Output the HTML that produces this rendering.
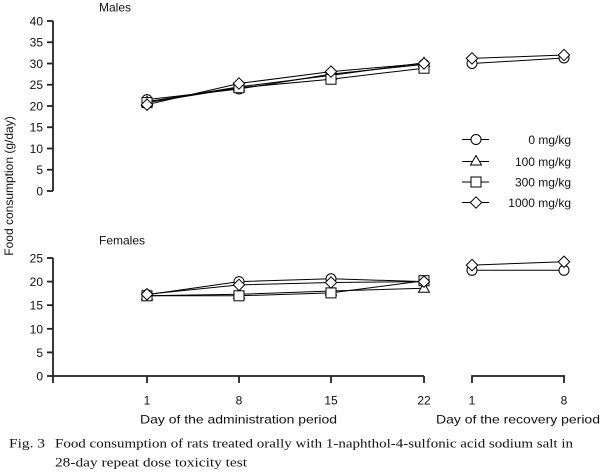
<!DOCTYPE html>
<html><head><meta charset="utf-8"><style>
html,body{margin:0;padding:0;background:#fff;}
svg{display:block;}
text{font-family:"Liberation Sans",Arial,sans-serif;font-size:12px;fill:#111;}
.serif{font-family:"Liberation Serif","Noto Serif CJK SC",serif;font-size:12.5px;}
</style></head><body>
<svg width="601" height="472" viewBox="0 0 601 472" xmlns="http://www.w3.org/2000/svg">
<defs>
<g id="c"><circle r="5" fill="#fff" stroke="#000" stroke-width="1"/></g>
<g id="t"><polygon points="0,-5.5 5.5,4 -5.5,4" fill="#fff" stroke="#000" stroke-width="1"/></g>
<g id="s"><rect x="-5" y="-5" width="10" height="10" fill="#fff" stroke="#000" stroke-width="1"/></g>
<g id="d"><polygon points="0,-5.7 5.7,0 0,5.7 -5.7,0" fill="#fff" stroke="#000" stroke-width="1"/></g>
</defs>

<!-- Males axis -->
<g stroke="#222" stroke-width="1.8" fill="none">
<line x1="53" y1="21" x2="53" y2="191"/>
<line x1="47" y1="21" x2="53" y2="21"/>
<line x1="47" y1="42.25" x2="53" y2="42.25"/>
<line x1="47" y1="63.5" x2="53" y2="63.5"/>
<line x1="47" y1="84.75" x2="53" y2="84.75"/>
<line x1="47" y1="106" x2="53" y2="106"/>
<line x1="47" y1="127.25" x2="53" y2="127.25"/>
<line x1="47" y1="148.5" x2="53" y2="148.5"/>
<line x1="47" y1="169.75" x2="53" y2="169.75"/>
<line x1="47" y1="191" x2="53" y2="191"/>
</g>
<g text-anchor="end">
<text x="43" y="25.5">40</text>
<text x="43" y="46.7">35</text>
<text x="43" y="68">30</text>
<text x="43" y="89.2">25</text>
<text x="43" y="110.5">20</text>
<text x="43" y="131.7">15</text>
<text x="43" y="153">10</text>
<text x="43" y="174.2">5</text>
<text x="43" y="195.5">0</text>
</g>
<text x="99" y="11.5">Males</text>

<!-- Males data -->
<g stroke="#000" stroke-width="1" fill="none">
<polyline points="147,99.6 239,89 331,74.1 424,64.4"/>
<polyline points="147,101.7 239,86.9 331,75.4 424,62.7"/>
<polyline points="147,102.6 239,87.7 331,79.2 424,68.2"/>
<polyline points="147,104.7 239,83.5 331,71.6 424,63.5"/>
<polyline points="472,63.5 564,58"/>
<polyline points="472,58.4 564,55"/>
</g>
<use href="#c" x="147" y="99.6"/><use href="#c" x="239" y="89"/><use href="#c" x="331" y="74.1"/><use href="#c" x="424" y="64.4"/>
<use href="#t" x="147" y="101.7"/><use href="#t" x="239" y="86.9"/><use href="#t" x="331" y="75.4"/><use href="#t" x="424" y="62.7"/>
<use href="#s" x="147" y="102.6"/><use href="#s" x="239" y="87.7"/><use href="#s" x="331" y="79.2"/><use href="#s" x="424" y="68.2"/>
<use href="#d" x="147" y="104.7"/><use href="#d" x="239" y="83.5"/><use href="#d" x="331" y="71.6"/><use href="#d" x="424" y="63.5"/>
<use href="#c" x="472" y="63.5"/><use href="#c" x="564" y="58"/>
<use href="#d" x="472" y="58.4"/><use href="#d" x="564" y="55"/>

<!-- Legend -->
<g stroke="#000" stroke-width="1">
<line x1="462" y1="139.5" x2="489" y2="139.5"/>
<line x1="462" y1="161.5" x2="489" y2="161.5"/>
<line x1="462" y1="182" x2="489" y2="182"/>
<line x1="462" y1="202.5" x2="489" y2="202.5"/>
</g>
<use href="#c" x="476" y="139.5"/>
<use href="#t" x="476" y="161"/>
<use href="#s" x="476" y="182"/>
<use href="#d" x="476" y="202.5"/>
<g text-anchor="end">
<text x="571" y="144">0 mg/kg</text>
<text x="571" y="166">100 mg/kg</text>
<text x="571" y="186.5">300 mg/kg</text>
<text x="571" y="207">1000 mg/kg</text>
</g>

<!-- Y axis label -->
<text x="0" y="0" text-anchor="middle" transform="translate(13,186) rotate(-90)">Food consumption (g/day)</text>

<!-- Females axis -->
<g stroke="#222" stroke-width="1.8" fill="none">
<line x1="53" y1="258" x2="53" y2="383"/>
<line x1="47" y1="258" x2="53" y2="258"/>
<line x1="47" y1="281.6" x2="53" y2="281.6"/>
<line x1="47" y1="305.2" x2="53" y2="305.2"/>
<line x1="47" y1="328.8" x2="53" y2="328.8"/>
<line x1="47" y1="352.4" x2="53" y2="352.4"/>
<line x1="47" y1="376" x2="424" y2="376"/>
<line x1="147" y1="376" x2="147" y2="383"/>
<line x1="239" y1="376" x2="239" y2="383"/>
<line x1="331" y1="376" x2="331" y2="383"/>
<line x1="424" y1="376" x2="424" y2="383"/>
<polyline points="472,383 472,376 564,376 564,383"/>
</g>
<g text-anchor="end">
<text x="43" y="262.5">25</text>
<text x="43" y="286">20</text>
<text x="43" y="309.7">15</text>
<text x="43" y="333.3">10</text>
<text x="43" y="356.9">5</text>
<text x="43" y="380.5">0</text>
</g>
<text x="99" y="244.5">Females</text>

<g stroke="#000" stroke-width="1" fill="none">
<polyline points="147,294.8 239,281.6 331,278.8 424,281.6"/>
<polyline points="147,295.8 239,294.3 331,291 424,288.2"/>
<polyline points="147,295.8 239,295.8 331,292.9 424,280.7"/>
<polyline points="147,294.3 239,284.9 331,282.5 424,281.6"/>
<polyline points="472,270.3 564,270.3"/>
<polyline points="472,265.1 564,261.8"/>
</g>
<use href="#c" x="147" y="294.8"/><use href="#c" x="239" y="281.6"/><use href="#c" x="331" y="278.8"/><use href="#c" x="424" y="281.6"/>
<use href="#t" x="147" y="295.8"/><use href="#t" x="239" y="294.3"/><use href="#t" x="331" y="291"/><use href="#t" x="424" y="288.2"/>
<use href="#s" x="147" y="295.8"/><use href="#s" x="239" y="295.8"/><use href="#s" x="331" y="292.9"/><use href="#s" x="424" y="280.7"/>
<use href="#d" x="147" y="294.3"/><use href="#d" x="239" y="284.9"/><use href="#d" x="331" y="282.5"/><use href="#d" x="424" y="281.6"/>
<use href="#c" x="472" y="270.3"/><use href="#c" x="564" y="270.3"/>
<use href="#d" x="472" y="265.1"/><use href="#d" x="564" y="261.8"/>

<!-- X tick labels -->
<g text-anchor="middle">
<text x="147" y="404.5">1</text>
<text x="239" y="404.5">8</text>
<text x="331" y="404.5">15</text>
<text x="424" y="404.5">22</text>
<text x="472" y="404.5">1</text>
<text x="564" y="404.5">8</text>
</g>
<text x="140" y="423.5" textLength="197" lengthAdjust="spacingAndGlyphs">Day of the administration period</text>
<text x="436" y="423.5" textLength="164" lengthAdjust="spacingAndGlyphs">Day of the recovery period</text>

<!-- Caption -->
<text class="serif" x="9" y="447.5" textLength="36" lengthAdjust="spacingAndGlyphs">Fig. 3</text>
<text class="serif" x="55" y="447.5" textLength="518" lengthAdjust="spacingAndGlyphs">Food consumption of rats treated orally with 1-naphthol-4-sulfonic acid sodium salt in</text>
<text class="serif" x="55" y="466.5" textLength="192" lengthAdjust="spacingAndGlyphs">28-day repeat dose toxicity test</text>
</svg>
</body></html>
